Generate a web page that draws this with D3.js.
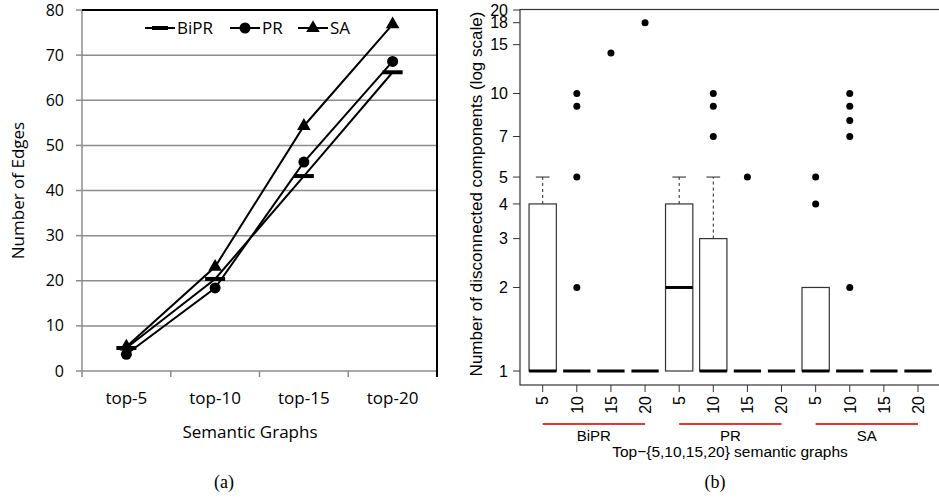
<!DOCTYPE html>
<html>
<head>
<meta charset="utf-8">
<script src="https://cdn.jsdelivr.net/npm/d3@7"></script>
<style>
  body { margin: 0; background: #fff; }
  svg { display: block; }
</style>
</head>
<body>
<div id="chart"></div>
<script>
// (a) edges per semantic graph
const categories = ["top-5", "top-10", "top-15", "top-20"];
const biprEdges = [5.1, 20.4, 43.2, 66.2];
const prEdges = [3.7, 18.4, 46.3, 68.6];
const saEdges = [5.4, 23.1, 54.3, 76.8];
const edgeTicks = [0, 10, 20, 30, 40, 50, 60, 70, 80];

// (b) disconnected components, one box per method x top-k
const methods = ["BiPR", "PR", "SA"];
const sizes = ["5", "10", "15", "20"];
const boxLow = [1, 1, 1, 1, 1, 1, 1, 1, 1, 1, 1, 1];
const boxQ1 = [1, 1, 1, 1, 1, 1, 1, 1, 1, 1, 1, 1];
const boxMedian = [1, 1, 1, 1, 2, 1, 1, 1, 1, 1, 1, 1];
const boxQ3 = [4, 1, 1, 1, 4, 3, 1, 1, 2, 1, 1, 1];
const boxHigh = [5, 1, 1, 1, 5, 5, 1, 1, 2, 1, 1, 1];
const boxOutliers = [[], [2, 5, 9, 10], [14], [18], [], [7, 9, 10], [5], [], [4, 5], [2, 7, 8, 9, 10], [], []];
const compTicks = [1, 2, 3, 4, 5, 7, 10, 15, 18, 20];

const svg = d3.select("#chart").append("svg")
    .attr("width", 939)
    .attr("height", 499);

// ---------- left chart ----------
const fontA = "'Open Sans', sans-serif";
const xA = d3.scaleBand().domain(categories).range([82, 437]);
const yA = d3.scaleLinear().domain([0, 80]).range([371, 10]);

// gridlines
svg.selectAll("line.gridA")
    .data(edgeTicks.slice(1, -1))
    .enter().append("line")
    .attr("x1", 82).attr("x2", 437)
    .attr("y1", d => yA(d)).attr("y2", d => yA(d))
    .attr("stroke", "#8c8c8c")
    .attr("stroke-width", 1.5);

// left axis (gray)
svg.append("line")
    .attr("x1", 82).attr("x2", 82)
    .attr("y1", yA(0)).attr("y2", yA(80))
    .attr("stroke", "#8c8c8c").attr("stroke-width", 1.5);
svg.selectAll("line.ytickA")
    .data(edgeTicks)
    .enter().append("line")
    .attr("x1", 76).attr("x2", 82)
    .attr("y1", d => yA(d)).attr("y2", d => yA(d))
    .attr("stroke", "#8c8c8c").attr("stroke-width", 1.5);
svg.selectAll("text.ylabA")
    .data(edgeTicks)
    .enter().append("text")
    .attr("x", 64)
    .attr("y", d => yA(d))
    .attr("dy", "0.35em")
    .attr("text-anchor", "end")
    .attr("font-family", fontA)
    .attr("font-size", 16)
    .text(d => d);

// bottom axis (gray)
svg.append("line")
    .attr("x1", 82).attr("x2", 437)
    .attr("y1", yA(0)).attr("y2", yA(0))
    .attr("stroke", "#8c8c8c").attr("stroke-width", 1.5);
svg.selectAll("line.xtickA")
    .data(categories)
    .enter().append("line")
    .attr("x1", d => xA(d)).attr("x2", d => xA(d))
    .attr("y1", yA(0)).attr("y2", yA(0) + 6)
    .attr("stroke", "#8c8c8c").attr("stroke-width", 1.5);
svg.selectAll("text.xlabA")
    .data(categories)
    .enter().append("text")
    .attr("x", d => xA(d) + xA.bandwidth() / 2)
    .attr("y", 404)
    .attr("text-anchor", "middle")
    .attr("font-family", fontA)
    .attr("font-size", 17)
    .text(d => d);

// top and right border (black)
svg.append("path")
    .attr("d", `M82,${yA(80)}H437V${yA(0) + 6}`)
    .attr("fill", "none")
    .attr("stroke", "black")
    .attr("stroke-width", 2);

// axis titles
svg.append("text")
    .attr("transform", `translate(24,${(yA(0) + yA(80)) / 2}) rotate(-90)`)
    .attr("text-anchor", "middle")
    .attr("font-family", fontA)
    .attr("font-size", 17)
    .text("Number of Edges");
svg.append("text")
    .attr("x", 250).attr("y", 438)
    .attr("text-anchor", "middle")
    .attr("font-family", fontA)
    .attr("font-size", 17)
    .text("Semantic Graphs");

// series
const cx = d => xA(d) + xA.bandwidth() / 2;
const seriesA = [
    { name: "BiPR", values: biprEdges, marker: "dash" },
    { name: "PR", values: prEdges, marker: "circle" },
    { name: "SA", values: saEdges, marker: "triangle" }
];
const lineA = d3.line().x((d, i) => cx(categories[i])).y(d => yA(d));

function drawMarker(g, type, x, y, scale) {
    if (type === "dash") {
        g.append("rect")
            .attr("x", x - 10 * scale).attr("y", y - 2)
            .attr("width", 20 * scale).attr("height", 4)
            .attr("fill", "black");
    } else if (type === "circle") {
        g.append("circle")
            .attr("cx", x).attr("cy", y).attr("r", 5.5)
            .attr("fill", "black");
    } else {
        g.append("path")
            .attr("transform", `translate(${x},${y})`)
            .attr("d", d3.symbol(d3.symbolTriangle, 80)())
            .attr("fill", "black");
    }
}

seriesA.forEach(s => {
    svg.append("path")
        .attr("d", lineA(s.values))
        .attr("fill", "none")
        .attr("stroke", "black")
        .attr("stroke-width", 2);
});
seriesA.forEach(s => {
    const g = svg.append("g");
    s.values.forEach((v, i) => drawMarker(g, s.marker, cx(categories[i]), yA(v), 1));
});

// legend
const legendX = [145, 230, 298];
seriesA.forEach((s, i) => {
    const g = svg.append("g");
    const x0 = legendX[i];
    g.append("line")
        .attr("x1", x0).attr("x2", x0 + 30)
        .attr("y1", 28).attr("y2", 28)
        .attr("stroke", "black").attr("stroke-width", 2);
    drawMarker(g, s.marker, x0 + 15, 28, 0.8);
    g.append("text")
        .attr("x", x0 + 32).attr("y", 28)
        .attr("dy", "0.35em")
        .attr("font-family", fontA)
        .attr("font-size", 17)
        .text(s.name);
});

svg.append("text")
    .attr("x", 224).attr("y", 488)
    .attr("text-anchor", "middle")
    .attr("font-family", "'Liberation Serif', serif")
    .attr("font-size", 18)
    .text("(a)");

// ---------- right chart ----------
const fontB = "'Liberation Sans', Arial, sans-serif";
const xB = d3.scaleLinear().domain([1, 12]).range([542.7, 918]);
const yB = d3.scaleLog().domain([1, 20]).range([371, 10]);
const step = xB(2) - xB(1);
const boxW = step * 0.8;

// frame
svg.append("rect")
    .attr("x", 520).attr("y", 9.5)
    .attr("width", 430).attr("height", 385 - 9.5)
    .attr("fill", "none")
    .attr("stroke", "#333")
    .attr("stroke-width", 1.2);

// y axis
svg.selectAll("line.ytickB")
    .data(compTicks)
    .enter().append("line")
    .attr("x1", 513).attr("x2", 520)
    .attr("y1", d => yB(d)).attr("y2", d => yB(d))
    .attr("stroke", "#333");
svg.selectAll("text.ylabB")
    .data(compTicks)
    .enter().append("text")
    .attr("x", 508)
    .attr("y", d => yB(d))
    .attr("dy", "0.36em")
    .attr("text-anchor", "end")
    .attr("font-family", fontB)
    .attr("font-size", 16)
    .text(d => d);
svg.append("text")
    .attr("transform", `translate(482,194) rotate(-90)`)
    .attr("text-anchor", "middle")
    .attr("font-family", fontB)
    .attr("font-size", 17)
    .text("Number of disconnected components (log scale)");

// x axis
const positions = d3.range(1, 13);
svg.selectAll("line.xtickB")
    .data(positions)
    .enter().append("line")
    .attr("x1", d => xB(d)).attr("x2", d => xB(d))
    .attr("y1", 385).attr("y2", 392)
    .attr("stroke", "#333");
svg.selectAll("text.xlabB")
    .data(positions)
    .enter().append("text")
    .attr("transform", d => `translate(${xB(d)},396) rotate(-90)`)
    .attr("dy", "0.36em")
    .attr("text-anchor", "end")
    .attr("font-family", fontB)
    .attr("font-size", 16)
    .text(d => sizes[(d - 1) % 4]);

// group underline + labels
methods.forEach((m, i) => {
    const a = xB(i * 4 + 1), b = xB(i * 4 + 4);
    svg.append("line")
        .attr("x1", a).attr("x2", b)
        .attr("y1", 424).attr("y2", 424)
        .attr("stroke", "#ee3333")
        .attr("stroke-width", 2);
    svg.append("text")
        .attr("x", (a + b) / 2).attr("y", 441)
        .attr("text-anchor", "middle")
        .attr("font-family", fontB)
        .attr("font-size", 15)
        .text(m);
});
svg.append("text")
    .attr("x", 730).attr("y", 457)
    .attr("text-anchor", "middle")
    .attr("font-family", fontB)
    .attr("font-size", 15.5)
    .text("Top\u2212{5,10,15,20} semantic graphs");

// boxes
positions.forEach((p, i) => {
    const x = xB(p);
    const g = svg.append("g");
    if (boxHigh[i] > boxQ3[i]) {
        g.append("line")
            .attr("x1", x).attr("x2", x)
            .attr("y1", yB(boxQ3[i])).attr("y2", yB(boxHigh[i]))
            .attr("stroke", "#222")
            .attr("stroke-dasharray", "3,3");
    }
    if (boxHigh[i] > boxQ1[i]) {
        g.append("line")
            .attr("x1", x - boxW / 4).attr("x2", x + boxW / 4)
            .attr("y1", yB(boxHigh[i])).attr("y2", yB(boxHigh[i]))
            .attr("stroke", "#222");
    }
    g.append("rect")
        .attr("x", x - boxW / 2).attr("y", yB(boxQ3[i]))
        .attr("width", boxW)
        .attr("height", yB(boxQ1[i]) - yB(boxQ3[i]))
        .attr("fill", "none")
        .attr("stroke", "#333")
        .attr("stroke-width", 1.2);
    g.append("line")
        .attr("x1", x - boxW / 2).attr("x2", x + boxW / 2)
        .attr("y1", yB(boxMedian[i])).attr("y2", yB(boxMedian[i]))
        .attr("stroke", "black")
        .attr("stroke-width", 3);
    g.selectAll("circle")
        .data(boxOutliers[i])
        .enter().append("circle")
        .attr("cx", x)
        .attr("cy", d => yB(d))
        .attr("r", 3.5)
        .attr("fill", "black");
});

svg.append("text")
    .attr("x", 715).attr("y", 488)
    .attr("text-anchor", "middle")
    .attr("font-family", "'Liberation Serif', serif")
    .attr("font-size", 18)
    .text("(b)");
</script>
</body>
</html>
